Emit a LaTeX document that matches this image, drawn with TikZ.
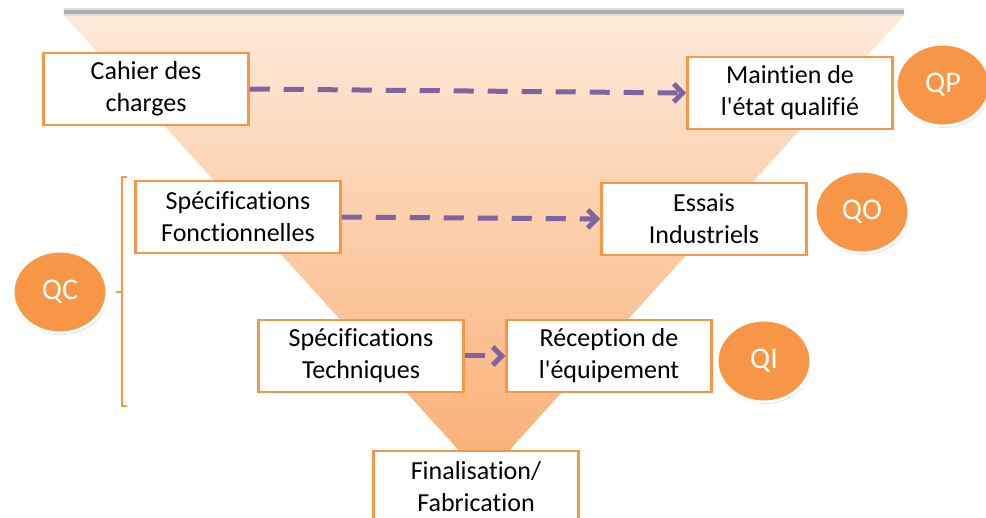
\documentclass[tikz,border=0pt]{standalone}
\usepackage{fontspec}
\setmainfont{Carlito}[Ligatures={NoCommon}]
\usetikzlibrary{arrows.meta,shadows,shapes.geometric}

\definecolor{boxorange}{RGB}{247,150,70}
\definecolor{arrowpurple}{RGB}{128,100,162}
\definecolor{funneltop}{RGB}{253,234,218}
\definecolor{funnelmid}{RGB}{252,216,186}
\definecolor{funnelbot}{RGB}{250,174,114}

\tikzset{
  stage/.style={draw=boxorange, line width=2.5pt, fill=white,
    minimum width=205pt, minimum height=72pt, inner sep=0pt,
    align=center, font=\fontsize{26}{32}\selectfont},
  qual/.style={ellipse, fill=boxorange, draw=white, line width=3pt,
    minimum width=94pt, minimum height=82pt, text=white,
    font=\fontsize{30}{32}\selectfont,
    drop shadow={shadow xshift=1pt, shadow yshift=-2pt, opacity=0.3}},
  flow/.style={arrowpurple, line width=5pt, dash pattern=on 20pt off 14pt,
    -{Straight Barb[length=9pt,width=18pt]}},
  bracket/.style={boxorange, line width=1.2pt}
}

\begin{document}
\begin{tikzpicture}[x=1pt, y=-1pt]
        \clip (0,0) rectangle (986,518);
        \fill[white] (0,0) rectangle (986,518);

        % Funnel in the background
        \shade[top color=funneltop, middle color=funnelmid, bottom color=funnelbot]
            (62,13) -- (906,13) -- (484,478) -- cycle;
        \draw[gray!25, line width=8pt] (64,12) -- (904,12);
        \draw[gray!65, line width=3.5pt] (64,12) -- (904,12);

        % Stages of the V cycle
        \node[stage] (cahier) at (146,89) {Cahier des\\charges};
        \node[stage] (maintien) at (790,93) {Maintien de\\l\textquotesingle état qualifié};
        \node[stage] (specfonc) at (238,217) {Spécifications\\Fonctionnelles};
        \node[stage] (essais) at (704,219) {Essais\\Industriels};
        \node[stage] (spectech) at (361,356) {Spécifications\\Techniques};
        \node[stage] (reception) at (609,356) {Réception de\\l\textquotesingle équipement};
        \node[stage] (final) at (476,487) {Finalisation/\\Fabrication};

        % Qualification steps
        \node[qual] (qp) at (943,85) {QP};
        \node[qual] (qo) at (862,212) {QO};
        \node[qual] (qi) at (764,361) {QI};
        \node[qual] (qc) at (60,292) {QC};

        % Links between both branches
        \draw[flow] (cahier.east) -- (maintien.west);
        \draw[flow] (specfonc.east) -- (essais.west);
        \draw[flow] (spectech.east) -- (reception.west);

        % Bracket grouping the specifications
        \coordinate (brtip) at (116,292);
        \draw[bracket] (127,177) -- (122,177) -- (122,406) -- (127,406);
        \draw[bracket] (122,292) -- (brtip);
    \end{tikzpicture}
\end{document}
